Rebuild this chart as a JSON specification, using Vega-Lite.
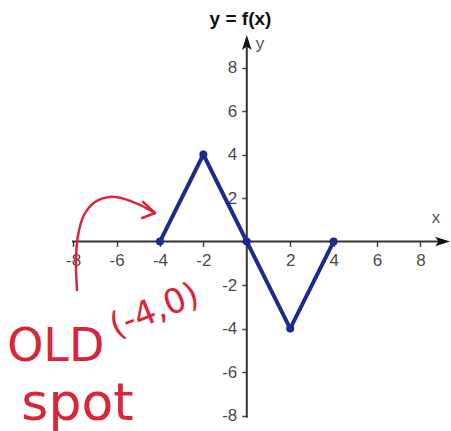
{
  "$schema": "https://vega.github.io/schema/vega-lite/v6.json",
  "width": 445,
  "height": 407,
  "autosize": {"type": "none"},
  "padding": {"left": 8, "top": 24, "right": 0, "bottom": 0},
  "background": "white",
  "config": {"view": {"stroke": null}, "font": "Liberation Sans"},
  "title": {"text": "y = f(x)", "fontSize": 19, "fontWeight": "bold", "font": "Liberation Sans", "color": "#111", "anchor": "middle", "dx": 10, "offset": -5},
  "datasets": {
    "f": [
      {"x": -4, "y": 0},
      {"x": -2, "y": 4},
      {"x": 0, "y": 0},
      {"x": 2, "y": -4},
      {"x": 4, "y": 0}
    ],
    "axes": [
      {"x": -8.05, "x2": 8.9, "y": 0, "y2": 0},
      {"x": 0, "x2": 0, "y": -8.1, "y2": 9.05}
    ],
    "heads": [
      {"x": 0, "y": 9.15, "dir": "up"},
      {"x": 9.02, "y": 0, "dir": "right"}
    ],
    "axisnames": [
      {"x": 0.61, "y": 9.08, "t": "y"},
      {"x": 8.72, "y": 1.08, "t": "x"}
    ],
    "curve": [
      {"seg": "c", "i": 0, "x": -7.82, "y": -2.23},
      {"seg": "c", "i": 1, "x": -7.87, "y": -0.85},
      {"seg": "c", "i": 2, "x": -7.77, "y": 0.3},
      {"seg": "c", "i": 3, "x": -7.5, "y": 1.22},
      {"seg": "c", "i": 4, "x": -6.99, "y": 1.82},
      {"seg": "c", "i": 5, "x": -6.3, "y": 2.05},
      {"seg": "c", "i": 6, "x": -5.61, "y": 1.95},
      {"seg": "c", "i": 7, "x": -4.92, "y": 1.68},
      {"seg": "c", "i": 8, "x": -4.23, "y": 1.31},
      {"seg": "h1", "i": 0, "x": -4.78, "y": 1.82},
      {"seg": "h1", "i": 1, "x": -4.23, "y": 1.31},
      {"seg": "h2", "i": 0, "x": -4.82, "y": 1.08},
      {"seg": "h2", "i": 1, "x": -4.23, "y": 1.31}
    ],
    "old": [{"x": -8.8, "y": -4.85, "t": "OLD"}],
    "pt": [{"x": -4.25, "y": -3.2, "t": "(-4,0)"}],
    "spot": [{"x": -7.8, "y": -7.45, "t": "spot"}]
  },
  "layer": [
    {
      "data": {"name": "axes"},
      "mark": {"type": "rule", "color": "#333", "strokeWidth": 2},
      "encoding": {
        "x": {
          "field": "x", "type": "quantitative",
          "scale": {"domain": [-11, 9.5], "nice": false, "zero": false},
          "axis": {
            "orient": "bottom", "offset": -189.47, "title": null, "domain": false, "grid": false,
            "values": [-8, -7, -6, -5, -4, -3, -2, -1, 0, 1, 2, 3, 4, 5, 6, 7, 8],
            "labelExpr": "datum.value % 2 != 0 || datum.value == 0 ? '' : toString(datum.value)",
            "tickSize": 5, "tickColor": "#444", "tickWidth": 1.5,
            "labelFont": "Liberation Sans", "labelFontSize": 17, "labelColor": "#4a4a4a", "labelPadding": 6
          }
        },
        "x2": {"field": "x2"},
        "y": {
          "field": "y", "type": "quantitative",
          "scale": {"domain": [-8.71, 10], "nice": false, "zero": false},
          "axis": {
            "orient": "left", "offset": -238.78, "title": null, "domain": false, "grid": false,
            "values": [-8, -7, -6, -5, -4, -3, -2, -1, 0, 1, 2, 3, 4, 5, 6, 7, 8],
            "labelExpr": "datum.value % 2 != 0 || datum.value == 0 ? '' : toString(datum.value)",
            "tickSize": 5, "tickColor": "#444", "tickWidth": 1.5,
            "labelFont": "Liberation Sans", "labelFontSize": 17, "labelColor": "#4a4a4a", "labelPadding": 5
          }
        },
        "y2": {"field": "y2"}
      }
    },
    {
      "data": {"name": "heads"},
      "mark": {"type": "point", "filled": true, "color": "#111", "size": 220, "opacity": 1},
      "encoding": {
        "x": {"field": "x", "type": "quantitative"},
        "y": {"field": "y", "type": "quantitative"},
        "shape": {
          "field": "dir", "type": "nominal", "legend": null,
          "scale": {"domain": ["up", "right"], "range": ["M0,-1L0.65,1L0,0.55L-0.65,1Z", "M1,0L-1,0.65L-0.55,0L-1,-0.65Z"]}
        }
      }
    },
    {
      "data": {"name": "f"},
      "mark": {"type": "line", "color": "#1d2b8f", "strokeWidth": 4, "point": {"filled": true, "size": 64, "color": "#1d2b8f", "opacity": 1}},
      "encoding": {
        "x": {"field": "x", "type": "quantitative"},
        "y": {"field": "y", "type": "quantitative"}
      }
    },
    {
      "data": {"name": "axisnames"},
      "mark": {"type": "text", "font": "Liberation Sans", "fontSize": 17, "color": "#556", "align": "center", "baseline": "middle"},
      "encoding": {
        "x": {"field": "x", "type": "quantitative"},
        "y": {"field": "y", "type": "quantitative"},
        "text": {"field": "t"}
      }
    },
    {
      "data": {"name": "curve"},
      "mark": {"type": "line", "color": "#d9253a", "strokeWidth": 2.5, "interpolate": "catmull-rom", "strokeCap": "round"},
      "encoding": {
        "x": {"field": "x", "type": "quantitative"},
        "y": {"field": "y", "type": "quantitative"},
        "detail": {"field": "seg"},
        "order": {"field": "i"}
      }
    },
    {
      "data": {"name": "old"},
      "mark": {"type": "text", "font": "DejaVu Sans", "fontSize": 46, "color": "#d9253a", "align": "center", "baseline": "middle"},
      "encoding": {
        "x": {"field": "x", "type": "quantitative"},
        "y": {"field": "y", "type": "quantitative"},
        "text": {"field": "t"}
      }
    },
    {
      "data": {"name": "pt"},
      "mark": {"type": "text", "font": "DejaVu Sans", "fontSize": 34, "angle": 338, "color": "#d9253a", "align": "center", "baseline": "middle"},
      "encoding": {
        "x": {"field": "x", "type": "quantitative"},
        "y": {"field": "y", "type": "quantitative"},
        "text": {"field": "t"}
      }
    },
    {
      "data": {"name": "spot"},
      "mark": {"type": "text", "font": "DejaVu Sans", "fontSize": 52, "color": "#d9253a", "align": "center", "baseline": "middle"},
      "encoding": {
        "x": {"field": "x", "type": "quantitative"},
        "y": {"field": "y", "type": "quantitative"},
        "text": {"field": "t"}
      }
    }
  ]
}
